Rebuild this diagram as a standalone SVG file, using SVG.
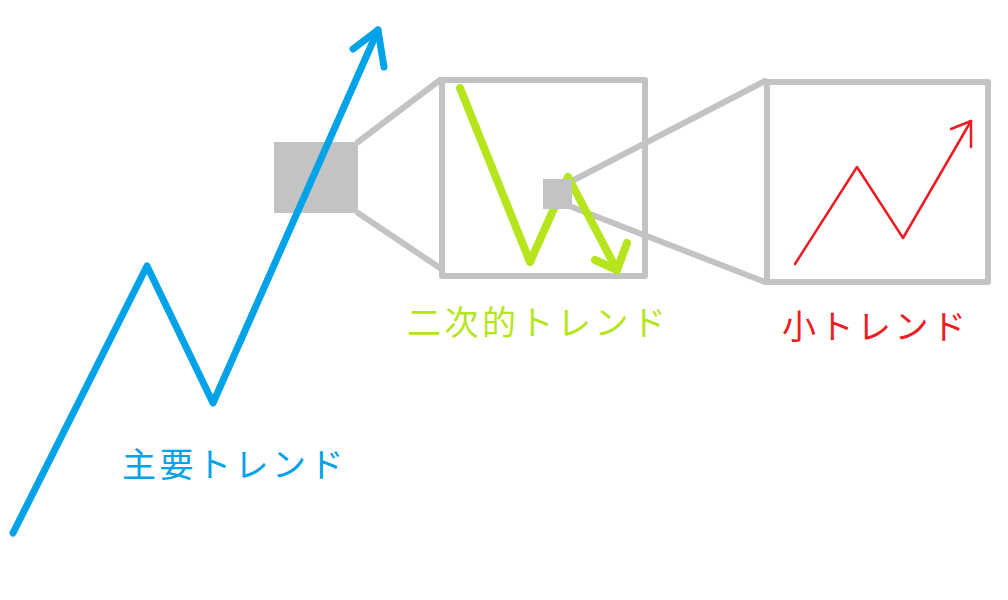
<svg xmlns="http://www.w3.org/2000/svg" width="1008" height="600" viewBox="0 0 1008 600">
<style>
.lbl{font-family:"Noto Sans CJK JP","Noto Sans CJK SC",sans-serif;font-size:34px;letter-spacing:3.5px}
.gray{fill:none;stroke:#c3c3c3;stroke-width:6;stroke-linejoin:round;stroke-linecap:round}
.grayfill{fill:#c3c3c3}
.line{fill:none;stroke-linecap:round;stroke-linejoin:round}
</style>
<rect width="1008" height="600" fill="#ffffff"/>
<g id="zoom-connectors">
<path class="gray" d="M358,142 L440,80 M358,213 L440,268"/>
<path class="gray" d="M572,181 L765,81 M572,207 L765,282"/>
</g>
<g id="main-zoom-area">
<rect class="grayfill" x="274" y="142" width="84" height="71"/>
</g>
<g id="main-trend">
<path class="line" stroke="#00a2e8" stroke-width="7" d="M13,533 L147,266 L213,403 L378,30"/>
<path class="line" stroke="#00a2e8" stroke-width="7" d="M353,49 L378,30 L384,67"/>
<text class="lbl" fill="#00a2e8" x="122" y="477">主要トレンド</text>
</g>
<g id="secondary-box">
<rect class="gray" x="442" y="80" width="203" height="196"/>
<path class="line" stroke="#b5e61d" stroke-width="8" d="M460,88 L530,262 L568,177 L617,270"/>
<path class="line" stroke="#b5e61d" stroke-width="8" d="M595,260 L617,270 L627,243"/>
<rect class="grayfill" x="543" y="179" width="29" height="30"/>
<text class="lbl" fill="#b5e61d" x="407" y="335">二次的トレンド</text>
</g>
<g id="minor-box">
<rect class="gray" x="767" y="82" width="221" height="200"/>
<path class="line" stroke="#ed1c24" stroke-width="2.5" d="M795,264 L857,167 L903,238 L971,121"/>
<path class="line" stroke="#ed1c24" stroke-width="2.5" d="M951,129 L971,121 L971,147"/>
<text class="lbl" fill="#ed1c24" x="782" y="339">小トレンド</text>
</g>
</svg>
